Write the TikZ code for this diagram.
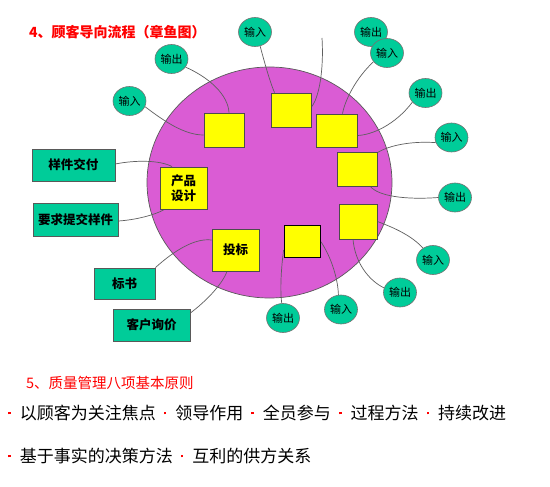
\documentclass[tikz,border=0pt]{standalone}
\usepackage{fontspec}
\setmainfont{Noto Sans CJK SC}
\usetikzlibrary{shapes.geometric}
\pgfdeclarelayer{back}
\pgfdeclarelayer{mid}
\pgfsetlayers{back,mid,main}
\definecolor{pur}{RGB}{218,92,212}
\definecolor{grn}{RGB}{0,204,153}
\definecolor{ylw}{RGB}{255,255,0}
\definecolor{lin}{RGB}{95,95,95}
\definecolor{ttl}{RGB}{255,0,0}
\newcommand\rdot{\textcolor{red}{\rule[0.3em]{2.6pt}{2.6pt}}}
\begin{document}
\begin{tikzpicture}[x=1pt,y=-1pt,
  sq/.style={draw=black!70,fill=ylw,line width=0.8pt,inner sep=0pt,align=center,
    font=\bfseries\fontsize{12.5}{15}\selectfont},
  ov/.style={ellipse,draw=black!55,fill=grn,line width=0.6pt,minimum width=33pt,
    minimum height=29pt,inner sep=0pt,font=\fontsize{11}{12}\selectfont},
  gb/.style={draw=black!65,fill=grn,line width=0.8pt,inner sep=0pt,
    font=\bfseries\fontsize{12.5}{14}\selectfont},
  con/.style={draw=lin,line width=0.7pt}]
\begin{pgfonlayer}{back}
\useasboundingbox[fill=white] (0,0) rectangle (550,487);
\node[ellipse,draw=black!65,fill=pur,line width=0.7pt,minimum width=245pt,minimum height=231pt,inner sep=0pt] (body) at (269.5,182.5) {};
\end{pgfonlayer}

% title
\node[anchor=west,inner sep=0pt,text=ttl,font=\bfseries\fontsize{14}{16}\selectfont] (t4) at (29,32) {4、顾客导向流程（章鱼图）};

% squares
\node[sq,minimum width=40pt,minimum height=34pt] (s1) at (224,130) {};
\node[sq,minimum width=40pt,minimum height=34pt] (s2) at (291,110) {};
\node[sq,minimum width=41pt,minimum height=33pt] (s3) at (336.5,130.5) {};
\node[sq,minimum width=40pt,minimum height=34pt] (s4) at (357,169) {};
\node[sq,minimum width=38pt,minimum height=35pt] (s5) at (358,221.5) {};
\node[sq,draw=black,minimum width=36pt,minimum height=32pt] (s6) at (302,241) {};
\node[sq,minimum width=47pt,minimum height=42pt] (s7) at (183.5,188) {产品\\设计};
\node[sq,minimum width=47pt,minimum height=42pt] (s8) at (235.5,250) {投标};

% green boxes
\node[gb,minimum width=83pt,minimum height=32pt] (r1) at (73.5,165) {样件交付};
\node[gb,minimum width=85pt,minimum height=33pt] (r2) at (75.5,219.5) {要求提交样件};
\node[gb,minimum width=61pt,minimum height=31pt] (r3) at (124.5,283.5) {标书};
\node[gb,minimum width=77pt,minimum height=32pt] (r4) at (151.5,325) {客户询价};

% ellipses
\node[ov] (e1) at (255,32) {输入};
\node[ov] (e2) at (171.5,59) {输出};
\node[ov] (e3) at (129.5,101) {输入};
\node[ov] (e4) at (371,32) {输出};
\node[ov] (e5) at (387,53) {输入};
\node[ov] (e6) at (425.5,93) {输出};
\node[ov] (e7) at (451.5,137.5) {输入};
\node[ov] (e8) at (455,197.5) {输出};
\node[ov] (e9) at (433,260) {输入};
\node[ov] (e10) at (400,292.5) {输出};
\node[ov] (e11) at (341,309.5) {输入};
\node[ov] (e12) at (283,318) {输出};
\coordinate (f1) at (322,38);

% connectors (below the nodes)
\begin{pgfonlayer}{mid}
\draw[con] (e2.-30) .. controls (210,78) and (228,95) .. ([xshift=5pt]s1.north);
\draw[con] (e3.-20) .. controls (165,122) and (185,135) .. ([yshift=-5pt]s1.west);
\draw[con] (e1.-70) .. controls (266,68) and (271,85) .. ([xshift=4pt]s2.north west);
\draw[con] (f1) .. controls (324,70) and (319,98) .. ([yshift=3pt]s2.east);
\draw[con] (e5.-147) .. controls (356,78) and (345,100) .. ([xshift=6pt]s3.north);
\draw[con] (e6.-145) .. controls (395,125) and (372,135) .. ([yshift=-5pt]s3.east);
\draw[con] (e7.-162) .. controls (412,141) and (390,145) .. ([yshift=-1pt]s4.north east);
\draw[con] ([xshift=-7pt]s4.south east) .. controls (378,196) and (405,200) .. (e8.180);
\draw[con] (s5.east) .. controls (395,228) and (412,236) .. (e9.130);
\draw[con] ([xshift=-5pt]s5.south) .. controls (355,262) and (368,280) .. (e10.164);
\draw[con] (s6.east) .. controls (332,258) and (338,280) .. (e11.100);
\draw[con] ([yshift=-9pt]s6.west) .. controls (281,270) and (280,290) .. (e12.95);
\draw[con] ([yshift=1pt]r1.east) .. controls (135,160) and (160,160) .. ([xshift=-11.5pt]s7.north);
\draw[con] ([yshift=-1.5pt]r2.east) .. controls (135,220) and (155,215) .. ([xshift=5pt]s7.south west);
\draw[con] (r3.north east) .. controls (175,250) and (195,238) .. ([yshift=10pt]s8.west);
\draw[con] ([yshift=12pt]r4.east) .. controls (205,302) and (222,285) .. ([xshift=-8.5pt]s8.south);
\end{pgfonlayer}

% principles
\node[anchor=west,inner sep=0pt,text=ttl,font=\fontsize{14.5}{16}\selectfont] (t5) at (26,383) {5、质量管理八项基本原则};
\node[anchor=west,inner sep=0pt,text=black,font=\fontsize{17}{20}\selectfont] (p1) at (8,413)
 {\rdot\hspace{9pt}以顾客为关注焦点\hspace{8pt}\rdot\hspace{9pt}领导作用\hspace{8pt}\rdot\hspace{9pt}全员参与\hspace{8pt}\rdot\hspace{9pt}过程方法\hspace{8pt}\rdot\hspace{9pt}持续改进};
\node[anchor=west,inner sep=0pt,text=black,font=\fontsize{17}{20}\selectfont] (p2) at (8,456)
 {\rdot\hspace{9pt}基于事实的决策方法\hspace{8pt}\rdot\hspace{9pt}互利的供方关系};
\end{tikzpicture}
\end{document}
